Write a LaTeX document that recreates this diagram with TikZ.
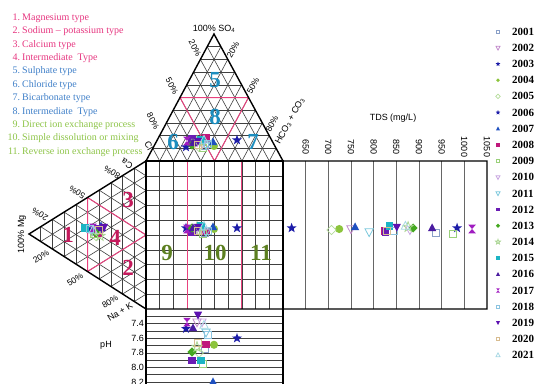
\documentclass[tikz,border=0pt]{standalone}
\usepackage{fontspec}
\setmainfont{Liberation Serif}
\setsansfont{Liberation Sans}
\usetikzlibrary{calc}
\definecolor{TypePink}{HTML}{E6357F}
\definecolor{TypeBlue}{HTML}{3F7FC8}
\definecolor{ProcGreen}{HTML}{8DC447}
\definecolor{ZoneCrimson}{HTML}{C41A5C}
\definecolor{ZoneTeal}{HTML}{1C8DBE}
\definecolor{ZoneOlive}{HTML}{5C7F20}
\definecolor{FieldPink}{HTML}{E8427E}
\definecolor{GridGray}{HTML}{404040}
\definecolor{Yr2001}{HTML}{8AA0C8}
\definecolor{Yr2002}{HTML}{C28ACB}
\definecolor{Yr2003}{HTML}{1C1CA8}
\definecolor{Yr2004}{HTML}{8CC43C}
\definecolor{Yr2005}{HTML}{B4DC9A}
\definecolor{Yr2006}{HTML}{1C1CA8}
\definecolor{Yr2007}{HTML}{1E50C0}
\definecolor{Yr2008}{HTML}{C0187C}
\definecolor{Yr2009}{HTML}{9AD07A}
\definecolor{Yr2010}{HTML}{C8A6E0}
\definecolor{Yr2011}{HTML}{7CC8DC}
\definecolor{Yr2012}{HTML}{6A1CB4}
\definecolor{Yr2013}{HTML}{44A820}
\definecolor{Yr2014}{HTML}{A8D490}
\definecolor{Yr2015}{HTML}{1CB4C4}
\definecolor{Yr2016}{HTML}{4A1CA0}
\definecolor{Yr2017}{HTML}{A01CC0}
\definecolor{Yr2018}{HTML}{8CC4E0}
\definecolor{Yr2019}{HTML}{5C10B0}
\definecolor{Yr2020}{HTML}{D8BC90}
\definecolor{Yr2021}{HTML}{A8D8E4}

\tikzset{
  gridline/.style={GridGray, line width=0.6pt},
  fieldline/.style={FieldPink, line width=1pt},
  outline/.style={black, line width=1.4pt, line join=miter},
  pctlbl/.style={font=\sffamily\fontsize{8.5}{9}\selectfont, inner sep=0pt},
  axlbl/.style={font=\sffamily\fontsize{9}{10}\selectfont, inner sep=0pt},
  zonenum/.style={font=\bfseries\fontsize{23}{24}\selectfont, inner sep=0pt},
  legtxt/.style={font=\fontsize{10}{11}\selectfont, anchor=west, inner sep=0pt},
  yrtxt/.style={font=\bfseries\fontsize{11}{12}\selectfont, anchor=west, inner sep=0pt},
  openmk/.style={draw=#1, line width=0.8pt},
  fullmk/.style={fill=#1},
  y2001/.style={openmk=Yr2001}, y2002/.style={openmk=Yr2002},
  y2003/.style={fullmk=Yr2003}, y2004/.style={fullmk=Yr2004},
  y2005/.style={openmk=Yr2005}, y2006/.style={fullmk=Yr2006},
  y2007/.style={fullmk=Yr2007}, y2008/.style={fullmk=Yr2008},
  y2009/.style={openmk=Yr2009}, y2010/.style={openmk=Yr2010},
  y2011/.style={openmk=Yr2011}, y2012/.style={fullmk=Yr2012},
  y2013/.style={fullmk=Yr2013}, y2014/.style={openmk=Yr2014},
  y2015/.style={fullmk=Yr2015}, y2016/.style={fullmk=Yr2016},
  y2017/.style={fullmk=Yr2017}, y2018/.style={openmk=Yr2018},
  y2019/.style={fullmk=Yr2019}, y2020/.style={openmk=Yr2020},
  y2021/.style={openmk=Yr2021},
  msq/.pic={\path[pic actions] (-2.6,-2.6) rectangle (2.6,2.6);},
  mcirc/.pic={\path[pic actions] (0,0) circle (3);},
  mtri/.pic={\path[pic actions] (0,-3.4) -- (3.1,2.4) -- (-3.1,2.4) -- cycle;},
  minvtri/.pic={\path[pic actions] (0,3.4) -- (3.1,-2.4) -- (-3.1,-2.4) -- cycle;},
  mdiam/.pic={\path[pic actions] (0,-3.4) -- (3.4,0) -- (0,3.4) -- (-3.4,0) -- cycle;},
  mstar/.pic={\path[pic actions] (-90:3.9) -- (-54:1.6) -- (-18:3.9) -- (18:1.6)
      -- (54:3.9) -- (90:1.6) -- (126:3.9) -- (162:1.6) -- (198:3.9) -- (234:1.6) -- cycle;},
  mhour/.pic={\path[pic actions] (-2.8,-3.2) -- (2.8,-3.2) -- (-2.8,3.2) -- (2.8,3.2) -- cycle;}
}

\begin{document}
\begin{tikzpicture}[x=1pt, y=-1pt]
  \useasboundingbox (0,0) rectangle (538,383);
  % corners of the fields
  \coordinate (anTop) at (214,34);
  \coordinate (sqTL) at (146,161);
  \coordinate (sqTR) at (283,161);
  \coordinate (sqBL) at (146,309);
  \coordinate (sqBR) at (283,309);
  \coordinate (caTip) at (29,234);
  \coordinate (tdsTR) at (487,161);
  \coordinate (tdsBR) at (487,309);

  % triangle grids
  \foreach \t in {1,...,9} {
    \draw[gridline] ($(sqTL)!\t/10!(anTop)$) -- ($(sqTR)!\t/10!(anTop)$);
    \draw[gridline] ($(sqTL)!\t/10!(sqTR)$) -- ($(anTop)!\t/10!(sqTR)$);
    \draw[gridline] ($(sqTR)!\t/10!(sqTL)$) -- ($(anTop)!\t/10!(sqTL)$);
    \draw[gridline] ($(sqTL)!\t/10!(caTip)$) -- ($(sqBL)!\t/10!(caTip)$);
    \draw[gridline] ($(sqTL)!\t/10!(sqBL)$) -- ($(caTip)!\t/10!(sqBL)$);
    \draw[gridline] ($(sqBL)!\t/10!(sqTL)$) -- ($(caTip)!\t/10!(sqTL)$);
  }
  % square grid
  \foreach \t in {1,...,9} {
    \draw[gridline] ($(sqTL)!\t/10!(sqTR)$) -- ($(sqBL)!\t/10!(sqBR)$);
    \draw[gridline] ($(sqTL)!\t/10!(sqBL)$) -- ($(sqTR)!\t/10!(sqBR)$);
  }
  % TDS field
  \foreach \v in {650,700,...,1000}
    \draw[gridline, GridGray!80] ({283+(\v-600)*0.45333},161) -- ({283+(\v-600)*0.45333},309);
  \foreach \v in {650,700,...,1050}
    \node[axlbl, rotate=-90] (tds\v) at ({283+(\v-600)*0.45333},147) {\v};
  \node[axlbl] (tdslab) at (393,118) {TDS (mg/L)};
  % pH field
  \foreach \p in {7.3,7.4,...,8.35}
    \draw[gridline] (146,{309+(\p-7.2)*73}) -- (283,{309+(\p-7.2)*73});
  \foreach \p [count=\k] in {7.4,7.6,7.8,8.0,8.2}
    \node[axlbl, anchor=east] (ph\k) at (144,{309+(\p-7.2)*73}) {\p};
  \node[axlbl] (phlab) at (106,345) {pH};

  % pink field lines
  \draw[fieldline] ($(sqTL)!0.5!(anTop)$) -- ($(sqTR)!0.5!(anTop)$) -- ($(sqTL)!0.5!(sqTR)$) -- cycle;
  \draw[fieldline] ($(sqTL)!0.5!(caTip)$) -- ($(sqBL)!0.5!(caTip)$) -- ($(sqTL)!0.5!(sqBL)$) -- cycle;
  \draw[fieldline] ($(sqTL)!0.3!(sqTR)$) -- ($(sqBL)!0.3!(sqBR)$);
  \draw[fieldline] ($(sqTL)!0.7!(sqTR)$) -- ($(sqBL)!0.7!(sqBR)$);

  % outlines
  \draw[outline] (sqBL) -- (caTip) -- (sqTL) -- (anTop) -- (sqTR) -- (tdsTR) -- (tdsBR) -- (sqBL);
  \draw[outline] (146,395) -- (sqTL) -- (sqTR) -- (283,395);

  % axis labels
  \node[axlbl, anchor=south] (so4) at (214,33) {100\% SO\textsubscript{4}};
  \node[pctlbl, rotate=-61.5] (an20l) at (195,48) {20\%};
  \node[pctlbl, rotate=-61.5] (an50l) at (172,86) {50\%};
  \node[pctlbl, rotate=-61.5] (an80l) at (153,121) {80\%};
  \node[axlbl, rotate=-61.5] (cllab) at (149,146) {Cl};
  \node[pctlbl, rotate=61.5] (an20r) at (233,50) {20\%};
  \node[pctlbl, rotate=61.5] (an50r) at (253,86) {50\%};
  \node[pctlbl, rotate=61.5] (an80r) at (272,124) {80\%};
  \node[axlbl, rotate=61.5] (hco3) at (290,121) {HCO\textsubscript{3} + CO\textsubscript{3}};
  \node[axlbl, rotate=90] (mglab) at (22,234) {100\% Mg};
  \node[pctlbl, rotate=148] (ca20) at (40,214) {20\%};
  \node[pctlbl, rotate=148] (ca50) at (77,192) {50\%};
  \node[pctlbl, rotate=148] (ca80) at (112,172) {80\%};
  \node[axlbl, rotate=148] (calab) at (127,164) {Ca};
  \node[pctlbl, rotate=32] (na20) at (41,257) {20\%};
  \node[pctlbl, rotate=32] (na50) at (75,280) {50\%};
  \node[pctlbl, rotate=32] (na80) at (110,302) {80\%};
  \node[axlbl, rotate=32] (naklab) at (120,312) {Na + K};

  % zone numbers
  \node[zonenum, ZoneCrimson] (zone1) at (68,235) {1};
  \node[zonenum, ZoneCrimson] (zone2) at (128,268) {2};
  \node[zonenum, ZoneCrimson] (zone3) at (128,200) {3};
  \node[zonenum, ZoneCrimson] (zone4) at (115,238) {4};
  \node[zonenum, ZoneTeal] (zone5) at (215,80) {5};
  \node[zonenum, ZoneTeal] (zone6) at (173,142) {6};
  \node[zonenum, ZoneTeal] (zone7) at (253,142) {7};
  \node[zonenum, ZoneTeal] (zone8) at (215,117) {8};
  \node[zonenum, ZoneOlive] (zone9) at (167,253) {9};
  \node[zonenum, ZoneOlive] (zone10) at (215,253) {10};
  \node[zonenum, ZoneOlive] (zone11) at (261,253) {11};

  % type legend
  \foreach \n/\txt/\col [count=\k] in {
      1./Magnesium type/TypePink, 2./Sodium -- potassium type/TypePink,
      3./Calcium type/TypePink, 4./Intermediate\ \ Type/TypePink,
      5./Sulphate type/TypeBlue, 6./Chloride type/TypeBlue,
      7./Bicarbonate type/TypeBlue, 8./Intermediate\ \ Type/TypeBlue,
      9./Direct ion exchange process/ProcGreen,
      10./Simple dissolution or mixing/ProcGreen,
      11./Reverse ion exchange process/ProcGreen}
    \node[legtxt, text=\col] (leg\k) at (4,{18+(\k-1)*13.4}) {\makebox[16pt][r]{\n}\hspace{2pt}\txt};

  % samples: year/marker/x/y anion/x,y cation/y square/TDS/pH
  \foreach \yr/\shp/\xs/\yt/\xl/\yl/\ys/\tds/\ph [count=\k] in {
      2001/msq/205/146/95/232/233/938/7.75,
      2002/minvtri/197/142/97/229/229/750/7.38,
      2003/mstar/237/140/100/231/228/619/7.60,
      2004/mcirc/214/146/99/234/229/724/7.69,
      2005/mdiam/199/147/96/236/230/707/7.80,
      2006/mstar/186/147/91/229/228/984/7.47,
      2007/mtri/213/142/101/226/227/759/8.20,
      2008/msq/206/138/98/233/231/823/7.69,
      2009/msq/203/148/94/234/234/975/7.95,
      2010/minvtri/202/144/95/230/230/880/7.38,
      2011/minvtri/206/145/97/231/232/790/7.52,
      2012/msq/192/139/99/229/232/827/7.90,
      2013/mdiam/192/145/96/233/228/887/7.79,
      2014/mstar/197/141/100/236/227/876/7.72,
      2015/msq/201/140/85/228/226/834/7.90,
      2016/mtri/193/143/102/228/228/929/7.46,
      2017/mhour/187/141/93/228/229/1017/7.38,
      2018/msq/208/144/90/229/231/845/7.55,
      2019/minvtri/198/141/104/227/227/851/7.28,
      2020/msq/198/145/99/230/231/830/7.67,
      2021/mtri/204/140/93/230/226/870/7.42} {
    \pic[y\yr, scale=1.35] at (\xs,\yt) {\shp};
    \pic[y\yr, scale=1.35] at (\xl,\yl) {\shp};
    \pic[y\yr, scale=1.35] at (\xs,\ys) {\shp};
    \pic[y\yr, scale=1.35] at ({283+(\tds-600)*0.45333},\ys) {\shp};
    \pic[y\yr, scale=1.35] at (\xs,{309+(\ph-7.2)*73}) {\shp};
    \pic[y\yr, scale=0.65] at (498,{31.7+(\k-1)*16.17}) {\shp};
    \node[yrtxt] (lg\yr) at (512,{31.7+(\k-1)*16.17}) {\yr};
  }
\end{tikzpicture}
\end{document}
